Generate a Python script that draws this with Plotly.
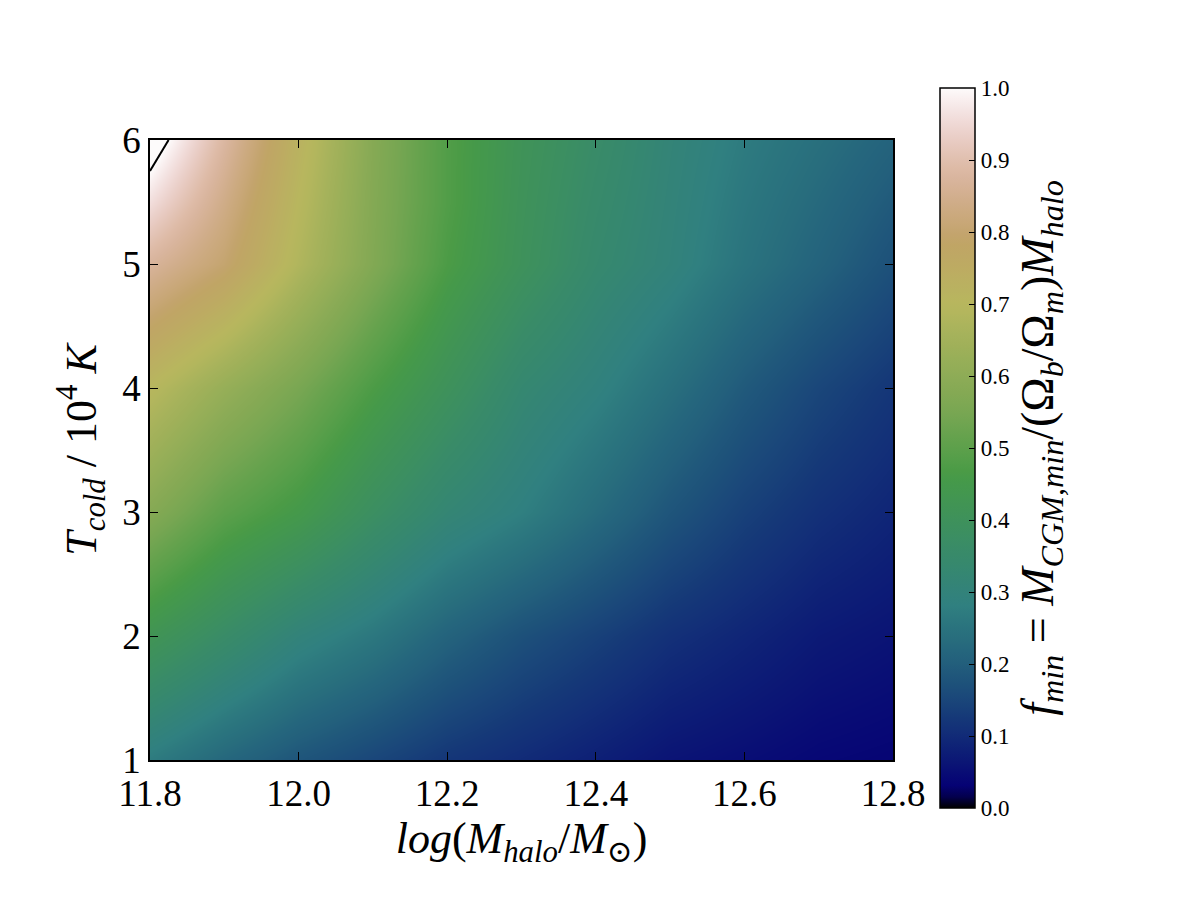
import numpy as np
import plotly.graph_objects as go

# ---- data ----
log_mhalo = [11.8, 11.9, 12.0, 12.1, 12.2, 12.3, 12.4, 12.5, 12.6, 12.7, 12.8]
t_cold = [1.0, 2.0, 3.0, 4.0, 5.0, 5.5, 6.0]
f_T1 = [0.27, 0.22, 0.18, 0.15, 0.12, 0.10, 0.08, 0.06, 0.05, 0.04, 0.035]
f_T2 = [0.42, 0.36, 0.30, 0.26, 0.21, 0.17, 0.14, 0.11, 0.09, 0.07, 0.06]
f_T3 = [0.58, 0.50, 0.45, 0.38, 0.32, 0.28, 0.23, 0.18, 0.14, 0.11, 0.09]
f_T4 = [0.70, 0.62, 0.55, 0.47, 0.40, 0.33, 0.29, 0.24, 0.19, 0.15, 0.12]
f_T5 = [0.87, 0.80, 0.68, 0.57, 0.47, 0.40, 0.34, 0.30, 0.25, 0.21, 0.17]
f_T55 = [0.96, 0.84, 0.70, 0.575, 0.48, 0.405, 0.35, 0.305, 0.26, 0.225, 0.19]
f_T6 = [1.04, 0.88, 0.72, 0.58, 0.48, 0.41, 0.36, 0.31, 0.27, 0.24, 0.21]
f_grid = [f_T1, f_T2, f_T3, f_T4, f_T5, f_T55, f_T6]
cbar_ticks = [0.0, 0.1, 0.2, 0.3, 0.4, 0.5, 0.6, 0.7, 0.8, 0.9, 1.0]
x_ticks = [11.8, 12.0, 12.2, 12.4, 12.6, 12.8]
y_ticks = [1, 2, 3, 4, 5, 6]

# ---- gist_earth-like colorscale ----
red = [(0.0, 0.0), (0.2824, 0.1882), (0.4588, 0.2714), (0.5490, 0.4719),
       (0.6980, 0.7176), (0.7882, 0.7553), (1.0, 0.9922)]
green = [(0.0, 0.0), (0.0275, 0.0), (0.1098, 0.1893), (0.1647, 0.3035),
         (0.2078, 0.3841), (0.2824, 0.5020), (0.5216, 0.6397), (0.6980, 0.7171),
         (0.7882, 0.6392), (0.8157, 0.6549), (0.8667, 0.6991), (0.8980, 0.7430),
         (0.9412, 0.8275), (0.9647, 0.8816), (0.9961, 0.9733), (1.0, 0.9843)]
blue = [(0.0, 0.0), (0.0039, 0.1684), (0.0078, 0.2212), (0.0275, 0.4329),
        (0.0314, 0.4549), (0.2824, 0.5004), (0.4667, 0.2748), (0.5451, 0.3205),
        (0.7843, 0.3961), (0.8941, 0.6651), (1.0, 0.9843)]


def chan(seg, s):
    xs = [a for a, b in seg]
    ys = [b for a, b in seg]
    return float(np.interp(s, xs, ys))


stops = np.linspace(0, 1, 65)
colorscale = [[float(s), "rgb(%d,%d,%d)" % (round(255 * chan(red, s)),
                                              round(255 * chan(green, s)),
                                              round(255 * chan(blue, s)))]
              for s in stops]

font_family = "Liberation Serif, DejaVu Serif, serif"

fig = go.Figure()
fig.add_trace(go.Heatmap(
    x=log_mhalo, y=t_cold, z=f_grid,
    zmin=0, zmax=1, zsmooth="best", colorscale=colorscale,
    colorbar=dict(
        x=(940 - 150) / 743, xanchor="left", xpad=0, ypad=0,
        y=(760 - 448) / 620, yanchor="middle",
        len=720 / 620, lenmode="fraction",
        thickness=35, thicknessmode="pixels",
        outlinewidth=1.5, outlinecolor="black",
        ticks="inside", ticklen=6, tickcolor="black",
        tickvals=cbar_ticks, ticktext=["%.1f" % v for v in cbar_ticks],
        tickfont=dict(family=font_family, size=23, color="black"),
        title=dict(
            text="<i>f</i><sub><i>min</i></sub> = <i>M</i><sub><i>CGM,min</i></sub>"
                 "/(Ω<sub><i>b</i></sub>/Ω<sub><i>m</i></sub>)<i>M</i><sub><i>halo</i></sub>",
            side="right",
            font=dict(family=font_family, size=46, color="black"),
        ),
    ),
))
fig.add_trace(go.Contour(
    x=log_mhalo, y=t_cold, z=f_grid,
    contours=dict(start=1.0, end=1.0, size=1.0, coloring="none"),
    line=dict(color="black", width=2),
    showscale=False, hoverinfo="skip",
))

axis_common = dict(
    showline=True, linecolor="black", linewidth=1.5, mirror="ticks",
    ticks="inside", ticklen=8, tickwidth=1, tickcolor="black",
    showgrid=False, zeroline=False,
    tickfont=dict(family=font_family, size=37, color="black"),
)
fig.update_xaxes(range=[11.8, 12.8], tickvals=x_ticks,
                 ticktext=["%.1f" % v for v in x_ticks],
                 title=dict(text="<i>log</i>(<i>M</i><sub><i>halo</i></sub>/<i>M</i><sub>⊙</sub>)",
                            font=dict(family=font_family, size=44, color="black"),
                            standoff=2),
                 **axis_common)
fig.update_yaxes(range=[1, 6], tickvals=y_ticks,
                 ticktext=[str(v) for v in y_ticks],
                 title=dict(text="<i>T</i><sub><i>cold</i></sub> / 10<sup>4</sup> <i>K</i>",
                            font=dict(family=font_family, size=44, color="black"),
                            standoff=12),
                 **axis_common)
fig.update_layout(
    width=1200, height=900,
    margin=dict(l=150, r=307, t=140, b=140),
    paper_bgcolor="white", plot_bgcolor="white",
    showlegend=False,
)
fig.write_html("out.html")
